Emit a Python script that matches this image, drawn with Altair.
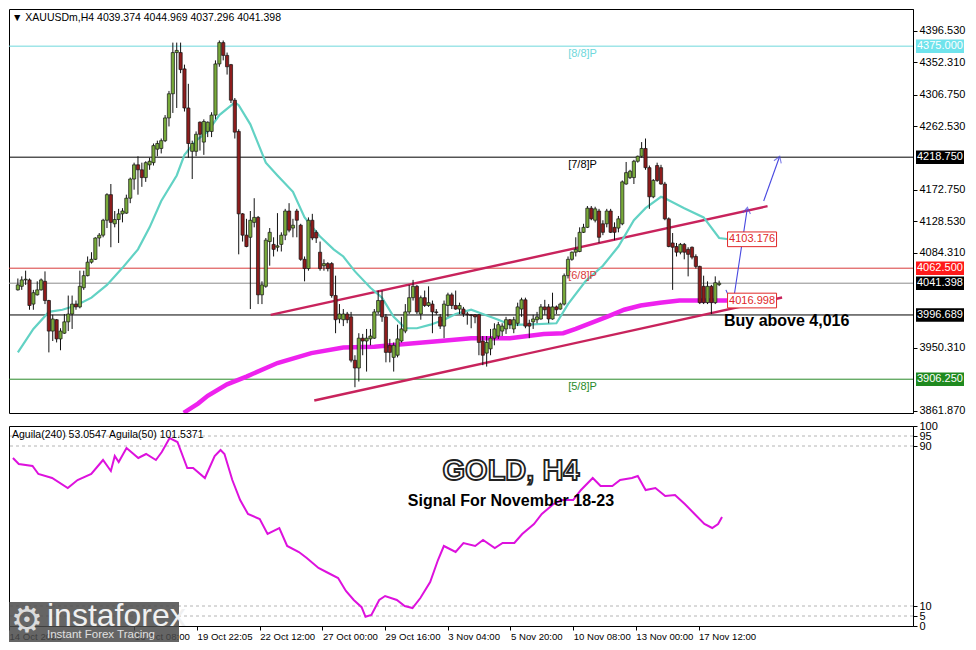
import altair as alt
import pandas as pd

# ---------------- data ----------------
opens = [4032,4037,4046,4046,4012,4025,4032,4044,4017,3974,3990,3963,3971,3987,3998,4012,4008,4035,4052,4071,
         4075,4105,4109,4130,4166,4125,4131,4139,4140,4161,4188,4208,4201,4190,4208,4211,4230,4231,4242,4274,
         4308,4366,4366,4343,4288,4227,4227,4268,4240,4255,4255,4278,4350,4380,4362,4349,4299,4255,4139,4109,
         4106,4127,4134,4025,4037,4100,4096,4092,4096,4109,4143,4119,4143,4123,4075,4062,4130,4113,4085,4066,
         4069,4069,4024,3991,3990,3998,3994,3933,3922,3964,3960,3963,3964,4001,4017,3994,3954,3937,3940,3960,
         3974,4001,4021,4037,3998,4021,4010,4012,4001,3994,3981,4010,4025,4010,4005,4005,3998,3997,3997,3997,
         3960,3943,3949,3964,3967,3974,3977,3990,3977,3985,4005,4018,3985,3987,3990,3991,4008,4008,3991,4008,
         4005,4012,4052,4075,4085,4086,4113,4120,4147,4130,4143,4125,4125,4143,4120,4119,4125,4181,4190,4190,
         4213,4220,4231,4204,4163,4207,4204,4181,4132,4098,4093,4085,4096,4089,4092,4079,4065,4037,4014,4037,
         4014,4039.374]
highs = [4048,4051,4059,4048,4032,4044,4048,4058,4018,3997,3991,3978,3998,4024,4024,4017,4059,4059,4079,4085,
         4106,4112,4132,4168,4181,4143,4146,4147,4166,4190,4211,4220,4211,4213,4218,4238,4242,4245,4278,4312,
         4380,4380,4380,4349,4322,4242,4255,4269,4272,4269,4282,4355,4383,4383,4366,4350,4302,4258,4140,4132,
         4143,4161,4136,4044,4105,4119,4106,4140,4113,4146,4154,4132,4146,4125,4079,4134,4139,4116,4100,4075,
         4071,4071,4052,4012,4005,4001,4001,3940,3971,3970,3977,3977,4005,4031,4031,3998,3963,3958,3983,3994,
         4012,4039,4046,4039,4024,4031,4037,4017,4005,3998,4017,4028,4028,4031,4014,4008,4001,3998,3998,3998,
         3967,3967,3977,3985,3987,3985,3994,3991,3994,4014,4021,4021,3990,3997,4001,4012,4018,4012,4028,4010,
         4014,4055,4079,4086,4106,4120,4125,4150,4150,4149,4146,4130,4146,4146,4127,4136,4186,4212,4201,4215,
         4221,4240,4245,4207,4188,4211,4208,4184,4134,4112,4098,4098,4098,4092,4093,4082,4066,4052,4044,4039,
         4051,4044.969]
lows = [4031,4032,4039,4004,4004,4024,4031,4012,3944,3960,3958,3947,3970,3974,3977,4004,4006,4032,4051,4069,
        4074,4093,4106,4119,4092,4120,4098,4127,4139,4154,4173,4166,4177,4184,4201,4207,4220,4224,4240,4262,
        4281,4288,4337,4283,4218,4188,4220,4228,4222,4247,4247,4272,4346,4355,4335,4295,4245,4082,4100,4092,
        4005,4120,4012,4012,4035,4066,4079,4086,4086,4102,4113,4106,4106,4073,4044,4059,4102,4098,4059,4059,
        4058,4021,3971,3985,3981,3985,3930,3895,3903,3940,3917,3954,3963,3998,3987,3930,3930,3917,3937,3958,
        3971,3998,4017,3998,3990,4008,4008,3971,3997,3977,3964,3994,4005,4004,3998,3994,3983,3978,3985,3940,
        3926,3924,3940,3954,3963,3967,3970,3977,3971,3981,3994,3978,3964,3977,3985,3990,3997,3985,3990,3998,
        4004,4010,4048,4073,4079,4085,4112,4119,4130,4127,4098,4109,4120,4112,4102,4113,4123,4180,4188,4181,
        4211,4218,4201,4146,4161,4184,4180,4130,4092,4032,4079,4082,4075,4051,4075,4062,4012,4012,4012,3998,
        4012,4037.296]
closes = [4039,4046,4047,4010,4028,4032,4046,4017,3974,3991,3963,3974,3987,3998,4012,4008,4037,4052,4071,4075,
          4105,4109,4130,4166,4127,4131,4139,4143,4161,4188,4208,4201,4190,4211,4213,4235,4238,4242,4274,4308,
          4366,4369,4342,4288,4238,4238,4251,4251,4269,4268,4278,4350,4380,4362,4346,4299,4254,4139,4109,4093,
          4130,4134,4025,4039,4102,4113,4089,4094,4109,4143,4116,4123,4130,4075,4062,4130,4105,4105,4062,4069,
          4062,4024,3990,3998,3998,3990,3933,3922,3964,3960,3964,3967,4001,4017,3994,3944,3944,3954,3963,3977,
          4001,4021,4037,4001,4021,4010,4014,4001,4000,3981,4012,4025,4010,4005,4010,3998,3997,3996,3994,3958,
          3940,3958,3964,3977,3983,3981,3990,3983,3990,4008,4018,3981,3981,3991,3994,4008,4004,3991,4008,4004,
          4012,4052,4075,4085,4089,4113,4120,4147,4132,4146,4106,4113,4143,4113,4113,4132,4184,4197,4199,4213,
          4220,4231,4204,4163,4186,4186,4181,4132,4093,4092,4085,4096,4085,4082,4078,4065,4014,4014,4037,4014,
          4042,4041.398]

ma_fast = [(0,3944),(4,3977),(8,4001),(11.5,4004),(15,4010),(19,4021),(23,4039),(27,4063),(31,4089),(34,4120),
           (37,4157),(41,4193),(43,4222),(46,4242),(49,4255),(52,4278),(56,4296),(57,4292),(60,4265),(64,4211),
           (67,4193),(71,4170),(74,4134),(78,4107),(81.5,4089),(84,4079),(87,4058),(91,4035),(94,4021),(97,3994),
           (100,3978),(103,3978),(106.5,3983),(110,3990),(113,3998),(117,4004),(120,3998),(124,3990),(127,3983),
           (131.5,3983),(139,3985),(142,4012),(146.5,4044),(151,4066),(155,4093),(159,4130),(162,4147),(166,4163),
           (167,4161),(172,4147),(177,4134),(181,4105),(183.5,4103.2)]
ma_slow = [(42.8,3859),(46.5,3872),(49,3883),(54,3899),(59,3910),(67,3929),(75.75,3943),(84,3951),(92,3952),
           (100.75,3956),(109,3960),(117,3964),(127,3964),(135.75,3970),(140.75,3971),(144,3977),(152,3994),
           (156.5,4004),(160.75,4010),(165.75,4014),(170.75,4017),(181,4017),(183.5,4017)]
aguila = [(0,84),(1.5,81),(5,80),(6.5,76),(10,74),(14,69),(16.5,73),(20,76),(23,83),(25,77.5),(26,85),(27,82),
          (29,89),(32,84),(34,86),(36.5,83),(38,87),(40,94),(42,92),(44.5,79),(46,79),(49,74),(51.5,85),(53,88),
          (54,86),(56,73),(58,63),(60,56),(63,53.5),(65,46),(68,49),(70,40),(73,37),(75,34),(78,29),(80,27),
          (83,24),(85,17.5),(87,13),(89,9.4),(90,4.6),(91.5,5.5),(93.5,13),(95,15),(98,13),(100,10),(102,9),
          (104,14),(106.5,22),(108.5,33),(110,40),(113,37),(115,41.5),(118,40),(120,43),(123,39),(125,41.5),
          (128,41.5),(130,46),(133,51),(135,56),(138,61),(140,63),(143,63),(145,68),(148,74),(150,70),(153,70),
          (155,73),(158,74),(159.5,75),(161.5,68),(164,69),(166.5,65),(169,65.5),(171.5,61),(174,56),(176.5,51),
          (178.5,49),(180,51),(181,54.5)]

level_prices = [4375.0, 4218.75, 4062.5, 3906.25]
level_names = ["[8/8]P", "[7/8]P", "[6/8]P", "[5/8]P"]
level_colors = ["#6fd8dc", "#000000", "#d83a3a", "#2a8a2a"]
extra_prices = [4041.398, 3996.689]
extra_colors = ["#8c8c8c", "#000000"]

tag_prices = [4375.0, 4218.75, 4062.5, 4041.398, 3996.689, 3906.25]
tag_texts = ["4375.000", "4218.750", "4062.500", "4041.398", "3996.689", "3906.250"]
tag_colors = ["#6fe3ec", "#000000", "#ff1a1a", "#000000", "#000000", "#1f8a1f"]
price_ticks = [4396.53, 4352.31, 4306.75, 4262.53, 4172.75, 4128.53, 4084.31, 3950.31, 3861.87]

chan_upper = [(65.25, 3996.8), (193.5, 4149.8)]
chan_lower = [(76.5, 3876.3), (197.25, 4021.2)]
arrow1 = [(182.75, 4032), (184.5, 4010), (188.25, 4146)]
arrow2 = [(192.5, 4157), (196.5, 4218)]
ma_tags = [(189.5, 4103.176, "4103.176"), (189.5, 4016.998, "4016.998")]

date_idx = [-1, 31, 47, 63, 79, 95, 111, 127, 143, 159, 175]
date_labels = ["14 Oct 2025", "16 Oct 08:00", "19 Oct 22:05", "22 Oct 12:00", "27 Oct 00:00",
               "29 Oct 16:00", "3 Nov 04:00", "5 Nov 20:00", "10 Nov 08:00", "13 Nov 00:00", "17 Nov 12:00"]
ind_ticks = [0, 5, 10, 90, 95, 100]
ind_levels = [95, 90, 10, 5]

# ---------------- layout ----------------
W, H1, H2 = 904, 404, 200
FONT = "Liberation Sans"
xscale = alt.Scale(domain=[-1, 229.75], nice=False, zero=False)
yscale = alt.Scale(domain=[3858.7, 4427.3], nice=False, zero=False)
iscale = alt.Scale(domain=[0, 100], nice=False, zero=False)

price_axis = alt.Axis(orient="right", values=price_ticks, format=".3f", title=None, grid=False,
                      tickSize=4, labelPadding=2, labelFontSize=11, labelFont=FONT, domain=True)
expr = "''"
for v, l in zip(date_idx, date_labels):
    expr = f"datum.value == {v} ? '{l}' : ({expr})"
date_axis = alt.Axis(values=date_idx, labelExpr=expr, title=None, grid=False, tickSize=4,
                     labelAlign="left", labelPadding=1, labelFontSize=9.6, labelFont=FONT,
                     labelOverlap=False, labelFlush=False, domain=False)
ind_axis = alt.Axis(orient="right", values=ind_ticks, format="d", title=None, grid=False,
                    tickSize=4, labelPadding=2, labelFontSize=11, labelFont=FONT, labelOverlap=False)


def XP(f="i"):
    return alt.X(f"{f}:Q", scale=xscale, axis=None)


def YP(f="p"):
    return alt.Y(f"{f}:Q", scale=yscale, axis=price_axis)


def XI(f="i"):
    return alt.X(f"{f}:Q", scale=xscale, axis=date_axis)


def YI(f="v"):
    return alt.Y(f"{f}:Q", scale=iscale, axis=ind_axis)


candles = pd.DataFrame({"i": list(range(len(closes))), "o": opens, "h": highs, "l": lows, "c": closes})
candles["dir"] = ["up" if c >= o else "down" for o, c in zip(opens, closes)]

levels = pd.DataFrame({"p": level_prices + extra_prices,
                       "col": level_colors + extra_colors})
lvl_lbl = pd.DataFrame({"p": level_prices, "t": level_names, "col": level_colors, "i": [145.75] * 4})
fast = pd.DataFrame(ma_fast, columns=["i", "p"])
slow = pd.DataFrame(ma_slow, columns=["i", "p"])
chan = pd.DataFrame([(a, b, "u") for a, b in chan_upper] + [(a, b, "l") for a, b in chan_lower],
                    columns=["i", "p", "g"])
arr = pd.DataFrame([(a, b, "a1", k) for k, (a, b) in enumerate(arrow1)] +
                   [(a, b, "a2", k) for k, (a, b) in enumerate(arrow2)], columns=["i", "p", "g", "k"])
tags = pd.DataFrame({"p": tag_prices, "t": tag_texts, "col": tag_colors})
mat = pd.DataFrame(ma_tags, columns=["i", "p", "t"])

rules = alt.Chart(levels).mark_rule(strokeWidth=1).encode(
    y=YP(), color=alt.Color("col:N", scale=None))
wicks = alt.Chart(candles).mark_rule(color="#111111", strokeWidth=1).encode(
    x=XP(), y=YP("l"), y2="h")
bodies = alt.Chart(candles).mark_bar(size=3.2, stroke="#151515", strokeWidth=0.7).encode(
    x=XP(), y=YP("o"), y2="c",
    color=alt.Color("dir:N", scale=alt.Scale(domain=["up", "down"], range=["#78aa3a", "#8e1c1c"]), legend=None))
fast_l = alt.Chart(fast).mark_line(color="#62d2c4", strokeWidth=2.2, clip=True).encode(x=XP(), y=YP())
slow_l = alt.Chart(slow).mark_line(color="#ee22ee", strokeWidth=4.5, clip=True).encode(x=XP(), y=YP())
chan_l = alt.Chart(chan).mark_line(color="#c8235c", strokeWidth=2.4).encode(x=XP(), y=YP(), detail="g:N")
arr_l = alt.Chart(arr).mark_line(color="#4848e0", strokeWidth=1.1).encode(
    x=XP(), y=YP(), detail="g:N", order="k:Q")
head1 = alt.Chart(pd.DataFrame([arrow1[-1]], columns=["i", "p"])).mark_point(
    shape="M-1,1.2L0,-0.4L1,1.2", filled=False, size=60, strokeWidth=1.1, color="#4848e0", angle=8
).encode(x=XP(), y=YP())
head2 = alt.Chart(pd.DataFrame([arrow2[-1]], columns=["i", "p"])).mark_point(
    shape="M-1,1.2L0,-0.4L1,1.2", filled=False, size=60, strokeWidth=1.1, color="#4848e0", angle=20
).encode(x=XP(), y=YP())
lvl_t = alt.Chart(lvl_lbl).mark_text(fontSize=11, font=FONT, dy=8).encode(
    x=XP(), y=YP(), text="t:N", color=alt.Color("col:N", scale=None))
box = alt.Chart(mat).mark_point(shape="M-1,-0.3L1,-0.3L1,0.3L-1,0.3Z", size=2401, filled=True,
                                fill="white", stroke="#e02828", strokeWidth=1, opacity=1).encode(x=XP(), y=YP())
box_t = alt.Chart(mat).mark_text(fontSize=11, font=FONT, color="#e02828").encode(x=XP(), y=YP(), text="t:N")
buy = alt.Chart(pd.DataFrame({"i": [182.25], "p": [3988.7], "t": ["Buy above 4,016"]})).mark_text(
    fontSize=16, font=FONT, fontWeight="bold", align="left", color="black").encode(x=XP(), y=YP(), text="t:N")
tag_bg = alt.Chart(tags).mark_point(shape="M-1,-0.28L1,-0.28L1,0.28L-1,0.28Z", size=2304, filled=True,
                                    opacity=1, strokeWidth=0).encode(
    x=alt.value(W + 27), y=YP(), color=alt.Color("col:N", scale=None))
tag_t = alt.Chart(tags).mark_text(fontSize=11, font=FONT, color="white", align="left").encode(
    x=alt.value(W + 4), y=YP(), text="t:N")
header = alt.Chart(pd.DataFrame({"t": ["▼ XAUUSDm,H4  4039.374 4044.969 4037.296 4041.398"]})).mark_text(
    fontSize=10.5, font=FONT, align="left", color="black").encode(x=alt.value(3), y=alt.value(9), text="t:N")

price = alt.layer(rules, chan_l, fast_l, slow_l, wicks, bodies, arr_l, head1, head2, lvl_t, box, box_t, buy,
                  tag_bg, tag_t, header).properties(width=W, height=H1)

ind_df = pd.DataFrame(aguila, columns=["i", "v"])
ilev = pd.DataFrame({"v": ind_levels})
ind_rules = alt.Chart(ilev).mark_rule(color="#b4b4b4", strokeDash=[3, 3], strokeWidth=1).encode(y=YI())
ind_line = alt.Chart(ind_df).mark_line(color="#dd11dd", strokeWidth=2).encode(x=XI(), y=YI())
ind_hdr = alt.Chart(pd.DataFrame({"t": ["Aguila(240) 53.0547   Aguila(50) 101.5371"]})).mark_text(
    fontSize=10.5, font=FONT, align="left", color="black").encode(x=alt.value(3), y=alt.value(9), text="t:N")
title_df = pd.DataFrame({"t": ["GOLD, H4"]})
g_text = alt.Chart(title_df).mark_text(fontSize=29, font=FONT, fontWeight="bold", fill="white",
                                       stroke="#222222", strokeWidth=1.8).encode(
    x=alt.value(502), y=alt.value(45), text="t:N")
sig_df = pd.DataFrame({"t": ["Signal For November 18-23"]})
s_text = alt.Chart(sig_df).mark_text(fontSize=16, font=FONT, fontWeight="bold", color="black").encode(
    x=alt.value(502), y=alt.value(75), text="t:N")
logo_bg = alt.Chart(pd.DataFrame({"a": [1]})).mark_rect(color="#4a4a4a", opacity=0.85).encode(
    x=alt.value(0), x2=alt.value(170), y=alt.value(176), y2=alt.value(216))
logo_g = alt.Chart(pd.DataFrame({"t": ["⚙"]})).mark_text(fontSize=36, font="DejaVu Sans", color="#e8e8e8",
                                                         opacity=0.9).encode(
    x=alt.value(18), y=alt.value(195), text="t:N")
logo_t = alt.Chart(pd.DataFrame({"t": ["instaforex"]})).mark_text(fontSize=32, font=FONT, color="#f0f0f0",
                                                                 align="left").encode(
    x=alt.value(38), y=alt.value(190), text="t:N")
logo_s = alt.Chart(pd.DataFrame({"t": ["Instant Forex Tracing"]})).mark_text(fontSize=11.5, font=FONT,
                                                                            color="#e0e0e0", align="left").encode(
    x=alt.value(38), y=alt.value(209), text="t:N")

ind = alt.layer(ind_rules, ind_line, ind_hdr, g_text, s_text, logo_bg, logo_g, logo_t,
                logo_s).properties(width=W, height=H2)

chart = alt.vconcat(price, ind, spacing=2).properties(
    padding={"left": 0, "top": 0, "right": 0, "bottom": 0}
).configure_view(stroke="black", strokeWidth=1).configure_axis(
    labelColor="black", tickColor="black", domainColor="black")

chart.save("out.html", embed_options={"renderer": "svg", "actions": False})
